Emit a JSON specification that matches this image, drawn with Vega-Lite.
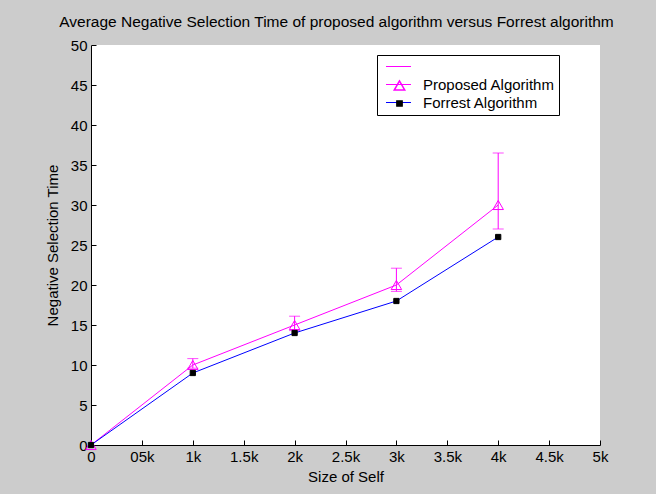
{
  "$schema": "https://vega.github.io/schema/vega-lite/v6.json",
  "width": 509,
  "height": 400,
  "autosize": {"type": "none"},
  "padding": {"left": 91, "top": 45, "right": 56, "bottom": 49},
  "background": "#cccccc",
  "title": {
    "text": "Average Negative Selection Time of proposed algorithm versus Forrest algorithm",
    "font": "Liberation Sans",
    "fontSize": 15.5,
    "fontWeight": "normal",
    "color": "#000000",
    "offset": 8,
    "dx": -9
  },
  "config": {
    "view": {"fill": "#ffffff", "stroke": null},
    "axis": {
      "domainColor": "#000000",
      "domainWidth": 1,
      "tickColor": "#000000",
      "tickSize": -5,
      "tickWidth": 1,
      "grid": false,
      "labelOverlap": false,
      "labelFlush": false,
      "labelFont": "Liberation Sans",
      "labelFontSize": 15,
      "labelColor": "#000000",
      "titleFont": "Liberation Sans",
      "titleFontSize": 15,
      "titleFontWeight": "normal",
      "titleColor": "#000000"
    }
  },
  "data": {
    "values": [
      {"size": 0, "time": 0, "series": "Proposed Algorithm"},
      {"size": 1000, "time": 10, "lo": 9.6, "hi": 10.8, "series": "Proposed Algorithm"},
      {"size": 2000, "time": 15, "lo": 14.3, "hi": 16.1, "series": "Proposed Algorithm"},
      {"size": 3000, "time": 20, "lo": 19.2, "hi": 22.1, "series": "Proposed Algorithm"},
      {"size": 4000, "time": 30, "lo": 27, "hi": 36.5, "series": "Proposed Algorithm"},
      {"size": 0, "time": 0, "series": "Forrest Algorithm"},
      {"size": 1000, "time": 9, "series": "Forrest Algorithm"},
      {"size": 2000, "time": 14, "series": "Forrest Algorithm"},
      {"size": 3000, "time": 18, "series": "Forrest Algorithm"},
      {"size": 4000, "time": 26, "series": "Forrest Algorithm"}
    ]
  },
  "encoding": {
    "x": {
      "field": "size",
      "type": "quantitative",
      "title": "Size of Self",
      "scale": {"domain": [0, 5000], "nice": false},
      "axis": {
        "values": [0, 500, 1000, 1500, 2000, 2500, 3000, 3500, 4000, 4500, 5000],
        "labelExpr": "datum.value == 0 ? '0' : datum.value == 500 ? '05k' : (datum.value / 1000) + 'k'",
        "labelPadding": 9,
        "titlePadding": 5
      }
    }
  },
  "layer": [
    {
      "transform": [{"filter": "isValid(datum.lo)"}],
      "mark": {
        "type": "errorbar",
        "color": "#ff00ff",
        "thickness": 1,
        "ticks": {"size": 11, "thickness": 1, "color": "#ff00ff"}
      },
      "encoding": {
        "y": {
          "field": "lo",
          "type": "quantitative",
          "title": "Negative Selection Time",
          "scale": {"domain": [0, 50], "nice": false},
          "axis": {"tickCount": 11, "labelOverlap": false, "labelPadding": 9, "titlePadding": 10}
        },
        "y2": {"field": "hi"}
      }
    },
    {
      "mark": {"type": "line", "strokeWidth": 1},
      "encoding": {
        "y": {
          "field": "time",
          "type": "quantitative",
          "title": "Negative Selection Time",
          "scale": {"domain": [0, 50], "nice": false},
          "axis": {"tickCount": 11, "labelOverlap": false, "labelPadding": 9, "titlePadding": 10}
        },
        "color": {
          "field": "series",
          "type": "nominal",
          "scale": {
            "domain": [" ", "Proposed Algorithm", "Forrest Algorithm"],
            "range": ["#ff00ff", "#ff00ff", "#0000ff"]
          },
          "legend": {
            "title": null,
            "orient": "none",
            "legendX": 286,
            "legendY": 10,
            "fillColor": "#ffffff",
            "strokeColor": "#000000",
            "padding": 4,
            "symbolType": "M-2,0H2",
            "symbolSize": 156,
            "symbolStrokeWidth": 1,
            "symbolOffset": 10,
            "labelOffset": 17,
            "labelExpr": "datum.label + '\u00a0\u00a0'",
            "labelFont": "Liberation Sans",
            "labelFontSize": 15,
            "labelColor": "#000000",
            "rowPadding": 2
          }
        },
        "order": {"field": "size", "type": "quantitative"}
      }
    },
    {
      "mark": {"type": "point", "strokeWidth": 1, "opacity": 1, "size": 110},
      "encoding": {
        "y": {"field": "time", "type": "quantitative"},
        "shape": {
          "field": "series",
          "type": "nominal",
          "scale": {"domain": ["Proposed Algorithm", "Forrest Algorithm"], "range": ["triangle-up", "M-0.5,-0.5H0.5V0.5H-0.5Z"]},
          "legend": {"title": null, "orient": "none", "legendX": 286, "legendY": 29, "padding": 4, "symbolSize": 110, "symbolOffset": 11, "labelOffset": 17, "labelFont": "Liberation Sans", "labelFontSize": 15, "labelColor": "transparent", "rowPadding": 2}
        },
        "fill": {
          "field": "series",
          "type": "nominal",
          "scale": {"domain": ["Proposed Algorithm", "Forrest Algorithm"], "range": ["transparent", "#000000"]},
          "legend": {"title": null, "orient": "none", "legendX": 286, "legendY": 29, "padding": 4, "symbolSize": 110, "symbolOffset": 11, "labelOffset": 17, "labelFont": "Liberation Sans", "labelFontSize": 15, "labelColor": "transparent", "rowPadding": 2}
        },
        "stroke": {
          "field": "series",
          "type": "nominal",
          "scale": {"domain": ["Proposed Algorithm", "Forrest Algorithm"], "range": ["#ff00ff", "#000000"]},
          "legend": {"title": null, "orient": "none", "legendX": 286, "legendY": 29, "padding": 4, "symbolSize": 110, "symbolOffset": 11, "labelOffset": 17, "labelFont": "Liberation Sans", "labelFontSize": 15, "labelColor": "transparent", "rowPadding": 2}
        }
      }
    }
  ]
}
